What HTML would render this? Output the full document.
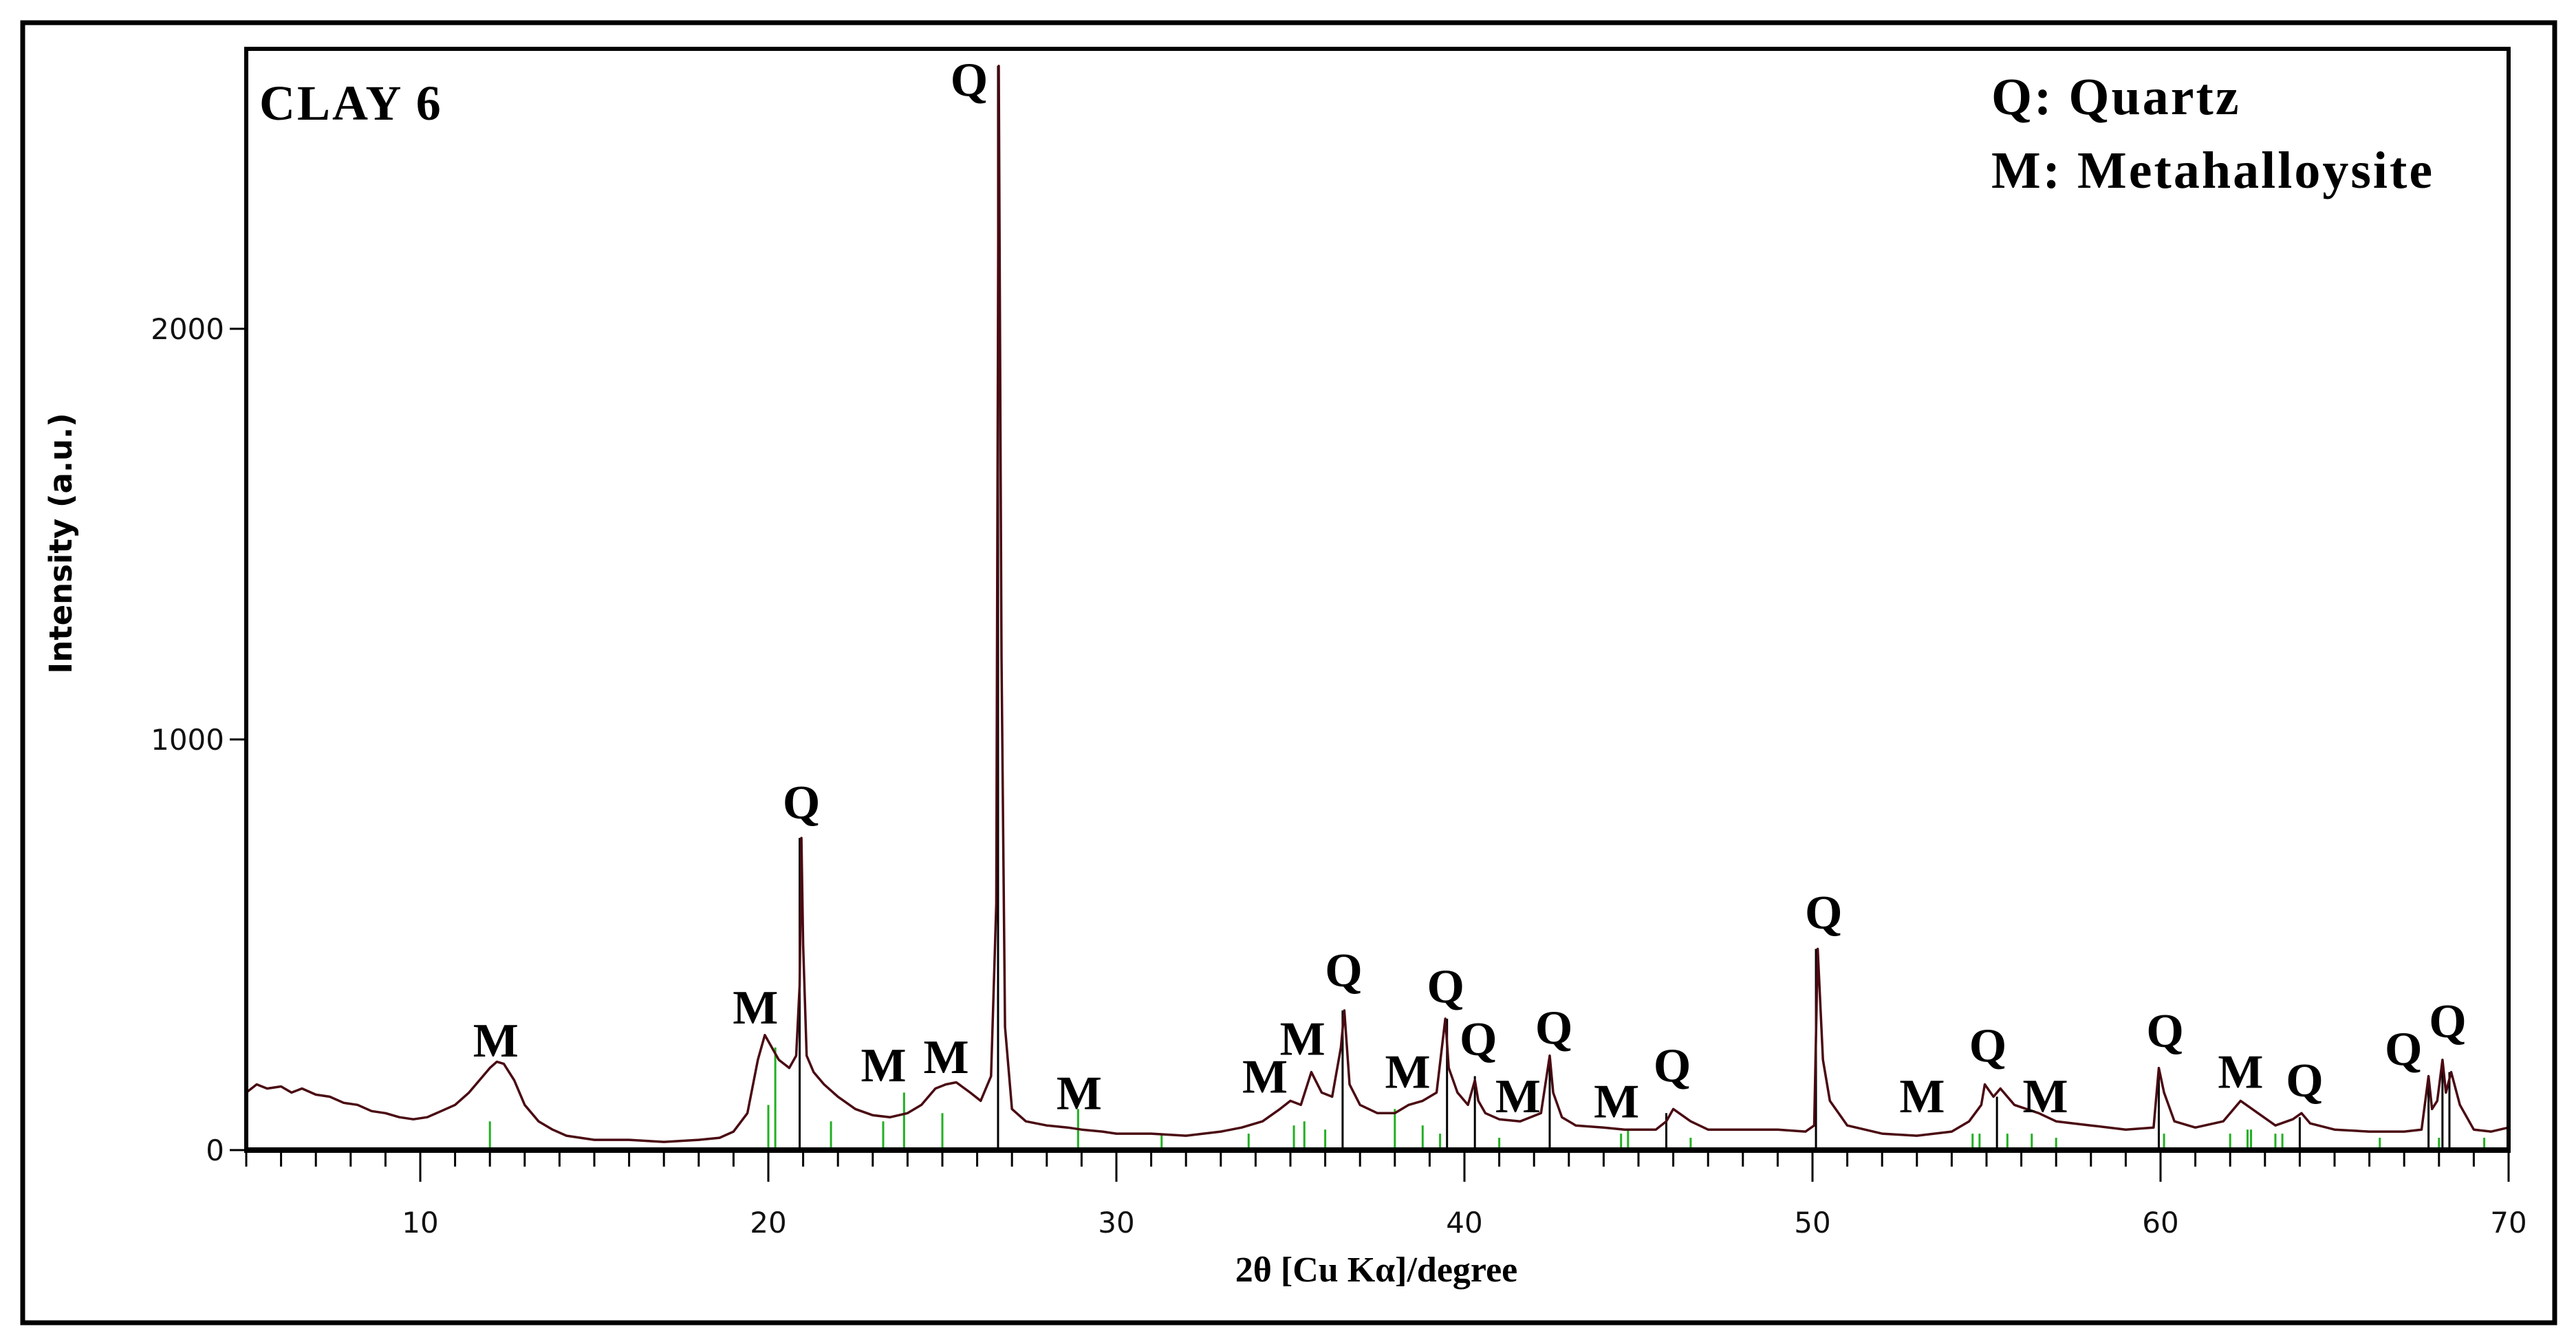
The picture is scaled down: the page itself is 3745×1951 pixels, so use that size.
<!DOCTYPE html>
<html><head><meta charset="utf-8"><style>
html,body{margin:0;padding:0;background:#fff;}
svg{display:block;}
</style></head><body>
<svg id="chart" width="3745" height="1951" viewBox="0 0 3745 1951" xmlns="http://www.w3.org/2000/svg">
<rect x="0" y="0" width="3745" height="1951" fill="#fff"/>
<rect x="33" y="33" width="3681" height="1890" fill="none" stroke="#000" stroke-width="7"/>
<g id="plot"></g>
<text x="377" y="174" font-family="Liberation Serif, serif" font-weight="bold" font-size="72" letter-spacing="3">CLAY 6</text>
<text x="2895" y="166" font-family="Liberation Serif, serif" font-weight="bold" font-size="76" letter-spacing="3">Q: Quartz</text>
<text x="2895" y="273" font-family="Liberation Serif, serif" font-weight="bold" font-size="76" letter-spacing="3">M: Metahalloysite</text>
<text x="2001" y="1863" text-anchor="middle" font-family="Liberation Serif, serif" font-weight="bold" font-size="52">2θ [Cu Kα]/degree</text>
<text transform="translate(104,790) rotate(-90)" text-anchor="middle" font-family="DejaVu Sans, sans-serif" font-weight="bold" font-size="45">Intensity (a.u.)</text>
</svg>
<script>
const xTicks = [10, 20, 30, 40, 50, 60, 70];
const yTicks = [0, 1000, 2000];
const patternX = [
5,5.3,5.6,6,6.3,6.6,7,7.4,7.8,8.2,
8.6,9,9.4,9.8,10.2,10.6,11,11.4,11.7,12,
12.2,12.4,12.7,13,13.4,13.8,14.2,15,16,17,
18,18.6,19,19.4,19.7,19.9,20.1,20.3,20.6,20.8,
20.9,20.95,21.0,21.1,21.3,21.6,22,22.5,23,23.5,
24,24.4,24.8,25.1,25.4,25.8,26.1,26.4,26.55,26.62,
26.7,26.8,27,27.4,28,28.6,29,29.6,30,31,
32,33,33.6,34.2,34.7,35,35.3,35.6,35.9,36.2,
36.45,36.55,36.7,37,37.5,38,38.4,38.8,39.2,39.45,
39.55,39.8,40.1,40.3,40.4,40.6,41,41.6,42.2,42.45,
42.55,42.8,43.2,44,44.6,45,45.5,45.8,46,46.5,
47,48,49,49.8,50.05,50.15,50.3,50.5,51,52,
53,54,54.5,54.85,54.95,55.2,55.4,55.8,56.5,57,
58,59,59.8,59.95,60.1,60.4,61,61.8,62.3,62.8,
63.3,63.8,64.05,64.3,65,66,67,67.5,67.7,67.8,
67.95,68.1,68.2,68.35,68.6,69,69.5,70];
const patternY = [
140,160,150,155,140,150,135,130,115,110,
95,90,80,75,80,95,110,140,170,200,
215,210,170,110,70,50,35,25,25,20,
25,30,45,90,220,280,250,220,200,230,
400,760,500,230,190,160,130,100,85,80,
90,110,150,160,165,140,120,180,600,2640,
1200,300,100,70,60,55,50,45,40,40,
35,45,55,70,100,120,110,190,140,130,
250,340,160,110,90,90,110,120,140,320,
200,140,110,170,120,90,75,70,90,230,
140,80,60,55,50,50,50,70,100,70,
50,50,50,45,60,490,220,120,60,40,
35,45,70,110,160,130,150,110,90,70,
60,50,55,200,140,70,55,70,120,90,
60,75,90,65,50,45,45,50,180,100,
120,220,140,190,110,50,45,55];
const stickQx = [20.9,26.6,36.5,39.5,40.3,42.45,45.8,50.1,55.3,59.95,64.0,67.7,68.1,68.3];
const stickQy = [760,2640,340,320,180,220,90,490,130,200,80,180,220,190];
const stickMx = [12.0,20.0,20.2,21.8,23.3,23.9,25.0,28.9,31.3,33.8,35.1,35.4,36.0,38.0,38.8,39.3,41.0,44.5,44.7,46.5,54.6,54.8,55.6,56.3,57.0,60.1,62.0,62.5,62.6,63.3,63.5,66.3,68.0,69.3];
const stickMy = [70,110,250,70,70,140,90,100,40,40,60,70,50,100,60,40,30,40,50,30,40,40,40,40,30,40,40,50,50,40,40,30,30,30];
const labelText = ['M','M','Q','M','M','Q','M','M','M','Q','M','Q','Q','M','Q','M','Q','Q','M','Q','M','Q','M','Q','Q','Q'];
const labelX = [12.17,19.63,20.95,23.31,25.11,25.77,28.93,34.27,35.35,36.53,38.37,39.46,40.40,41.54,42.57,44.37,45.97,50.32,53.15,55.04,56.69,60.13,62.30,64.14,66.98,68.25];
const labelY = [268,348,848,208,228,2608,140,180,272,440,192,400,272,132,300,120,208,580,132,256,132,292,192,172,248,316];

const NS = 'http://www.w3.org/2000/svg';
const L = 358, R = 3647, T = 71, B = 1672;
const sx = v => L + (v - 5) / 65 * (R - L);
const sy = v => B - v * 0.597;
const plot = document.getElementById('plot');
function mk(tag, attrs) { const e = document.createElementNS(NS, tag); for (const k in attrs) e.setAttribute(k, attrs[k]); plot.appendChild(e); return e; }

stickMx.forEach((x, i) => {
  const e = mk('line', {x1: sx(x), x2: sx(x), y1: B, y2: sy(stickMy[i]), stroke: '#22b022', 'stroke-width': 3});
  
  
});
stickQx.forEach((x, i) => {
  const e = mk('line', {x1: sx(x), x2: sx(x), y1: B, y2: sy(stickQy[i]), stroke: '#000', 'stroke-width': 3});
  
  
});
let d = '';
patternX.forEach((x, i) => { d += (i ? 'L' : 'M') + sx(x).toFixed(1) + ' ' + sy(patternY[i]).toFixed(1); });
const p = mk('path', {d: d, fill: 'none', stroke: '#4a0a12', 'stroke-width': 3.5, 'stroke-linejoin': 'round'});



const fr = mk('path', {d: `M${L} ${B} L${L} ${T} L${R} ${T} L${R} ${B}`, fill: 'none', stroke: '#000', 'stroke-width': 6});


const xa = mk('line', {x1: L - 3, x2: R + 3, y1: B, y2: B, stroke: '#000', 'stroke-width': 8});



for (let v = 5; v <= 70; v++) {
  const major = xTicks.indexOf(v) >= 0;
  const t = mk('line', {x1: sx(v), x2: sx(v), y1: B, y2: B + (major ? 46 : 24), stroke: '#000', 'stroke-width': 3});
  
  
}
xTicks.forEach(v => {
  const t = mk('text', {x: sx(v), y: 1792, 'text-anchor': 'middle', 'font-family': 'DejaVu Sans, sans-serif', 'font-size': 42, fill: '#111'});
  t.textContent = v;
  
  
});
yTicks.forEach(v => {
  const l = mk('line', {x1: L - 24, x2: L, y1: sy(v), y2: sy(v), stroke: '#000', 'stroke-width': 3});
  
  
  const t = mk('text', {x: L - 32, y: sy(v) + 15, 'text-anchor': 'end', 'font-family': 'DejaVu Sans, sans-serif', 'font-size': 42, fill: '#111'});
  t.textContent = v;
  
  
});
labelText.forEach((s, i) => {
  const t = mk('text', {x: sx(labelX[i]), y: sy(labelY[i]) + 24, 'text-anchor': 'middle', 'font-family': 'Liberation Serif, serif', 'font-weight': 'bold', 'font-size': 70, fill: '#000'});
  t.textContent = s;
  
  
});
</script>
</body></html>
